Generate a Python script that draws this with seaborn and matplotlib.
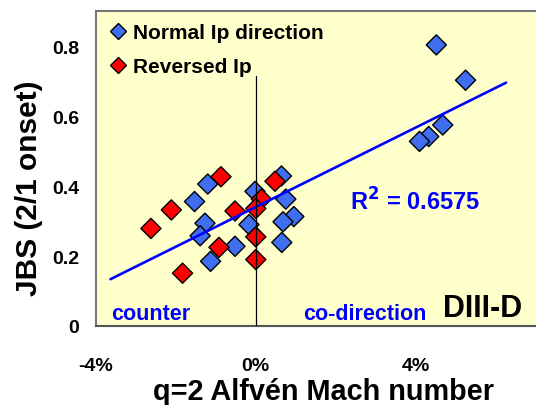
import numpy as np
import pandas as pd
import matplotlib
matplotlib.use('Agg')
import matplotlib.pyplot as plt
import seaborn as sb

# values
blue_x = [4.51, 5.24, 4.67, 4.32, 4.09, 0.64, -1.20, -1.53, -0.02, 0.75, 0.95, 0.68, -1.27, -0.17, -1.39, -0.52, 0.65, -1.13]
blue_y = [0.804, 0.703, 0.575, 0.542, 0.528, 0.429, 0.406, 0.356, 0.385, 0.363, 0.313, 0.298, 0.294, 0.290, 0.258, 0.228, 0.239, 0.185]
red_x = [-0.87, 0.48, -2.11, -2.62, -0.52, 0.14, 0.0, -0.92, 0.0, 0.0, -1.83]
red_y = [0.427, 0.414, 0.332, 0.279, 0.329, 0.363, 0.336, 0.225, 0.255, 0.190, 0.151]
series = ['Normal Ip direction', 'Reversed Ip']
x_ticks = [-4, 0, 4]
y_ticks = [0, 0.2, 0.4, 0.6, 0.8]
trend_range = [-3.63, 6.25]
zero_line_top = 0.715

df = pd.DataFrame({
    'mach': blue_x + red_x,
    'jbs': blue_y + red_y,
    'kind': [series[0]] * len(blue_x) + [series[1]] * len(red_x),
})

sb.set_theme(style='white')
plt.rcParams['font.family'] = ['Liberation Sans', 'DejaVu Sans']
plt.rcParams['font.weight'] = 'bold'
plt.rcParams['text.color'] = 'black'
plt.rcParams['axes.labelcolor'] = 'black'

fig = plt.figure(figsize=(5.36, 4.06), dpi=100)
ax = fig.add_axes([0.1785, 0.1946, 0.8215, 0.775])
ax.set_facecolor('#FFFFCC')

sb.scatterplot(data=df, x='mach', y='jbs', hue='kind', palette=['#3F6FF0', '#FF0000'],
               marker='D', s=105, edgecolor='black', linewidth=1.0, ax=ax, zorder=3)

# linear fit over all shots
k, b = np.polyfit(df['mach'], df['jbs'], 1)
xx = np.array(trend_range)
ax.plot(xx, k * xx + b, color='#0000FF', lw=1.9, zorder=4)
ax.plot([0, 0], [0, zero_line_top], color='black', lw=0.9, zorder=4)

ax.set_xlim(-4, 7)
ax.set_ylim(0, 0.9)
ax.set_xticks(x_ticks)
ax.set_xticklabels(['%d%%' % t for t in x_ticks])
ax.set_yticks(y_ticks)
ax.set_yticklabels(['0' if t == 0 else '%.1f' % t for t in y_ticks])
ax.tick_params(axis='both', labelsize=14, length=6, width=1.2, color='#555555',
               labelcolor='black', direction='out')
ax.tick_params(axis='x', pad=16)
ax.tick_params(axis='y', pad=6)
for sp in ['top', 'left', 'bottom']:
    ax.spines[sp].set_color('#777777')
    ax.spines[sp].set_linewidth(1.5)
ax.spines['bottom'].set_color('#555555')
ax.spines['right'].set_visible(False)

ax.set_xlabel('q=2 Alfvén Mach number', fontsize=20.8, fontweight='bold')
ax.set_ylabel('JBS (2/1 onset)', fontsize=21.5, fontweight='bold')
ax.xaxis.set_label_coords(0.518, -0.206)
ax.yaxis.set_label_coords(-0.152, 0.44)
ax.xaxis.label.set_va('center')
ax.yaxis.label.set_va('center')

ax.text(2.35, 0.334, 'R$^{\\mathbf{2}}$ = 0.6575', color='#0000FF', fontsize=17, fontweight='bold')
ax.text(-3.62, 0.02, 'counter', color='#0000FF', fontsize=15.5, fontweight='bold')
ax.text(1.17, 0.02, 'co-direction', color='#0000FF', fontsize=15.5, fontweight='bold')
ax.text(4.67, 0.03, 'DIII-D', color='black', fontsize=22, fontweight='bold')

h, l = ax.get_legend_handles_labels()
ax.legend(h, l, loc='upper left', bbox_to_anchor=(-0.005, 1.015), frameon=False,
          prop={'size': 15, 'weight': 'bold'}, handlelength=0.8, handletextpad=0.3,
          labelspacing=0.72, markerscale=0.75, borderpad=0.3)

fig.savefig('out.png', dpi=100)
